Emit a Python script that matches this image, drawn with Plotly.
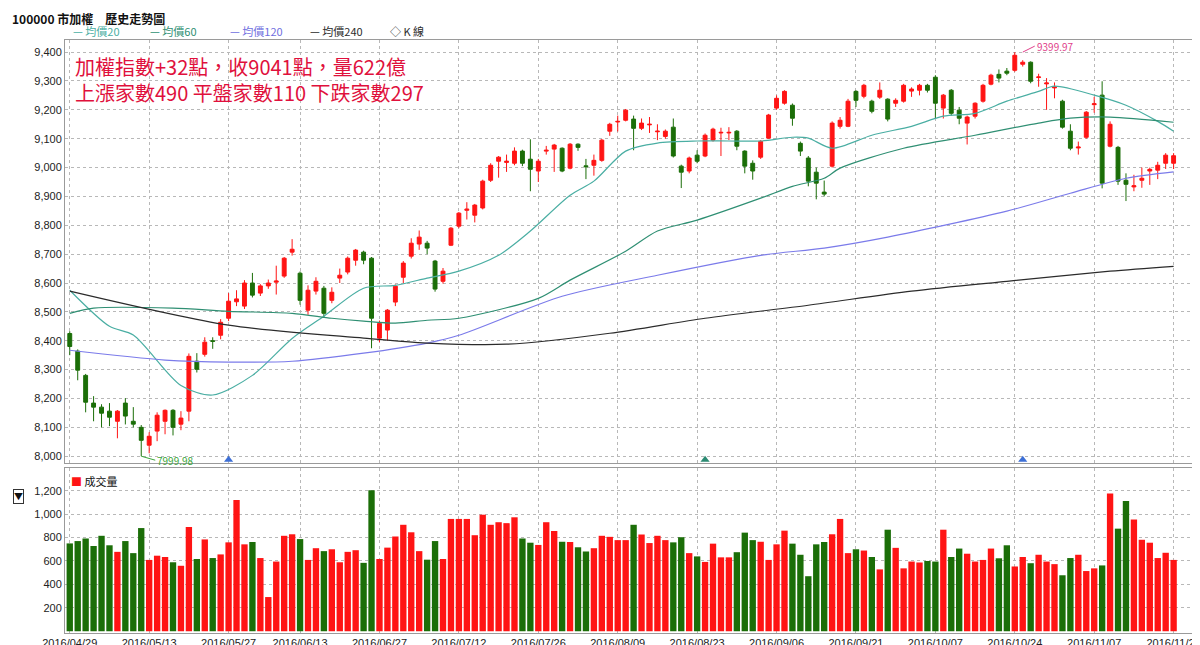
import plotly.graph_objects as go
from plotly.subplots import make_subplots
import pandas as pd

# trading days (TWSE 2016/04/29 - 2016/11/21)
holidays = ['2016-06-09', '2016-06-10', '2016-07-08', '2016-09-15', '2016-09-16',
            '2016-09-27', '2016-09-28', '2016-10-10']
extra_days = ['2016-09-10']
days = pd.bdate_range('2016-04-29', '2016-11-21')
days = days.drop(pd.to_datetime(holidays)).append(pd.to_datetime(extra_days)).sort_values()
dates = [d.strftime('%Y/%m/%d') for d in days]

tick_labels = ['2016/04/29', '2016/05/13', '2016/05/27', '2016/06/13', '2016/06/27', '2016/07/12',
               '2016/07/26', '2016/08/09', '2016/08/23', '2016/09/06', '2016/09/21', '2016/10/07',
               '2016/10/24', '2016/11/07', '2016/11/21']

opens = [8425, 8364, 8280, 8184, 8170, 8156, 8121, 8184, 8121, 8100,
         8038, 8087, 8121, 8159, 8111, 8156, 8329, 8353, 8400, 8419,
         8478, 8535, 8520, 8600, 8565, 8590, 8603, 8624, 8707, 8634,
         8506, 8572, 8582, 8540, 8617, 8638, 8679, 8707, 8686, 8409,
         8437, 8534, 8620, 8693, 8735, 8738, 8676, 8606, 8731, 8797,
         8852, 8835, 8860, 8956, 9022, 9018, 9015, 9057, 9029, 8988,
         9057, 9064, 9067, 8998, 9081, 9006, 9008, 9025, 9126, 9158,
         9164, 9168, 9136, 9148, 9124, 9108, 9140, 9005, 8988, 9043,
         9040, 9095, 9120, 9120, 9126, 9057, 9015, 9036, 9102, 9206,
         9223, 9216, 9084, 9033, 8984, 8915, 9005, 9143, 9143, 9264,
         9247, 9230, 9244, 9237, 9223, 9230, 9265, 9268, 9285, 9313,
         9206, 9268, 9199, 9154, 9178, 9230, 9289, 9323, 9334, 9337,
         9358, 9365, 9312, 9290, 9276, 9230, 9126, 9068, 9105, 9218,
         9251, 9074, 9070, 8956, 8933, 8956, 8988, 8991, 9015, 9015]
closes = [8380, 8298, 8187, 8170, 8149, 8135, 8156, 8139, 8111, 8055,
          8069, 8142, 8159, 8100, 8132, 8346, 8301, 8395, 8398, 8464,
          8537, 8545, 8600, 8558, 8590, 8600, 8607, 8686, 8717, 8540,
          8575, 8606, 8495, 8568, 8627, 8686, 8714, 8679, 8478, 8460,
          8506, 8589, 8669, 8738, 8759, 8721, 8579, 8641, 8790, 8842,
          8856, 8870, 8953, 9008, 9036, 9022, 9057, 9015, 8994, 9022,
          9060, 9078, 8988, 9081, 9070, 9003, 9025, 9095, 9150, 9160,
          9199, 9136, 9154, 9150, 9126, 9126, 9040, 8984, 9033, 9022,
          9112, 9133, 9122, 9122, 9074, 9005, 8988, 9091, 9182, 9240,
          9264, 9171, 9057, 8953, 8946, 8908, 9154, 9164, 9230, 9233,
          9285, 9195, 9268, 9168, 9233, 9285, 9272, 9285, 9268, 9223,
          9251, 9188, 9171, 9175, 9223, 9285, 9320, 9310, 9327, 9389,
          9365, 9299, 9314, 9293, 9279, 9140, 9067, 9071, 9192, 9221,
          8946, 9150, 8953, 8942, 8937, 8963, 8994, 9008, 9043, 9041]
highs = [8433, 8370, 8285, 8208, 8180, 8184, 8160, 8201, 8170, 8108,
         8083, 8152, 8162, 8163, 8156, 8356, 8357, 8412, 8412, 8475,
         8565, 8575, 8610, 8635, 8596, 8612, 8660, 8690, 8752, 8640,
         8592, 8620, 8590, 8585, 8650, 8692, 8718, 8712, 8690, 8470,
         8510, 8595, 8676, 8755, 8782, 8746, 8680, 8652, 8794, 8846,
         8880, 8874, 8958, 9015, 9040, 9045, 9070, 9062, 9098, 9030,
         9075, 9082, 9070, 9085, 9084, 9030, 9045, 9099, 9155, 9180,
         9203, 9180, 9170, 9175, 9150, 9132, 9170, 9010, 9038, 9060,
         9118, 9138, 9138, 9140, 9130, 9060, 9025, 9095, 9186, 9250,
         9268, 9222, 9090, 9040, 9000, 8955, 9160, 9175, 9238, 9268,
         9290, 9235, 9295, 9240, 9240, 9290, 9278, 9290, 9290, 9320,
         9255, 9272, 9210, 9180, 9226, 9290, 9325, 9340, 9345, 9400,
         9372, 9368, 9325, 9310, 9295, 9235, 9150, 9090, 9196, 9245,
         9299, 9160, 9075, 8980, 8975, 9000, 9000, 9020, 9050, 9050]
lows = [8350, 8263, 8152, 8121, 8100, 8104, 8062, 8110, 8100, 8000,
        8010, 8052, 8076, 8072, 8090, 8121, 8290, 8345, 8372, 8405,
        8468, 8520, 8510, 8550, 8555, 8580, 8560, 8618, 8695, 8525,
        8490, 8560, 8480, 8530, 8600, 8630, 8660, 8665, 8374, 8395,
        8400, 8520, 8600, 8685, 8715, 8700, 8570, 8598, 8728, 8790,
        8820, 8810, 8855, 8950, 8965, 8985, 9008, 9005, 8918, 8950,
        9045, 8985, 8984, 8994, 9058, 8960, 8972, 9020, 9110, 9125,
        9160, 9060, 9130, 9120, 9095, 9100, 9035, 8929, 8980, 9015,
        9036, 9090, 9040, 9095, 9060, 8980, 8958, 9030, 9100, 9200,
        9218, 9145, 9040, 8935, 8890, 8900, 9000, 9135, 9140, 9210,
        9240, 9188, 9238, 9160, 9210, 9225, 9245, 9250, 9260, 9170,
        9170, 9180, 9150, 9080, 9170, 9225, 9285, 9295, 9320, 9332,
        9350, 9292, 9280, 9200, 9240, 9135, 9060, 9045, 9100, 9190,
        8928, 9070, 8940, 8884, 8918, 8930, 8940, 8960, 8995, 8995]
volumes = [750, 770, 792, 728, 815, 734, 678, 770, 667, 881,
           609, 645, 634, 589, 559, 890, 617, 784, 625, 656,
           759, 1120, 742, 762, 625, 292, 595, 815, 828, 787,
           609, 709, 684, 700, 589, 678, 692, 584, 1204, 617,
           714, 809, 909, 845, 684, 611, 770, 617, 959, 959,
           959, 820, 995, 909, 931, 923, 973, 792, 756, 737,
           931, 856, 764, 762, 717, 681, 709, 815, 806, 778,
           778, 909, 826, 753, 815, 778, 759, 803, 667, 639,
           592, 748, 631, 631, 675, 842, 778, 764, 609, 742,
           859, 748, 653, 470, 742, 762, 828, 959, 667, 700,
           689, 634, 528, 867, 712, 537, 595, 587, 600, 595,
           867, 634, 706, 662, 595, 609, 706, 623, 734, 553,
           634, 581, 653, 595, 573, 478, 625, 653, 514, 537,
           562, 1176, 876, 1112, 954, 781, 756, 625, 670, 609]

# moving averages at candle indices
ma20_idx = [0, 5, 8, 14, 18, 23, 28, 32, 37, 41, 45, 49, 54, 58, 63, 66, 70, 74, 79, 83,
            87, 91, 93, 96, 101, 106, 110, 114, 118, 122, 124, 129, 133, 137, 139]
ma20_val = [8575, 8450, 8420, 8245, 8212, 8280, 8408, 8485, 8582, 8592, 8617, 8641, 8696, 8780,
            8904, 8953, 9057, 9085, 9092, 9092, 9092, 9105, 9102, 9067, 9112, 9143, 9178, 9188,
            9230, 9264, 9282, 9251, 9216, 9160, 9126]
ma60_idx = [0, 3, 13, 20, 28, 33, 37, 41, 45, 49, 59, 63, 70, 74, 79, 87, 91, 95, 97, 105,
            114, 122, 126, 131, 139]
ma60_val = [8495, 8513, 8513, 8502, 8495, 8478, 8468, 8461, 8471, 8478, 8547, 8610, 8710, 8780,
            8818, 8894, 8935, 8963, 8998, 9067, 9112, 9154, 9171, 9175, 9157]
ma120_idx = [0, 12, 20, 28, 37, 45, 49, 62, 74, 87, 95, 103, 118, 126, 133, 139]
ma120_val = [8367, 8333, 8326, 8329, 8357, 8392, 8419, 8554, 8627, 8696, 8721, 8759, 8849,
             8911, 8963, 8985]
ma240_idx = [0, 20, 37, 45, 55, 68, 80, 93, 106, 118, 131, 139]
ma240_val = [8572, 8454, 8409, 8392, 8388, 8426, 8478, 8523, 8572, 8606, 8641, 8658]

marker_idx = [20, 80, 120]

RED = '#ff1414'
GREEN = '#1b6e08'

fig = make_subplots(rows=2, cols=1, shared_xaxes=True, row_heights=[0.72, 0.28],
                    vertical_spacing=0.009)

# candles first so the category order follows the dates
fig.add_trace(go.Candlestick(x=dates, open=opens, high=highs, low=lows, close=closes,
                             increasing=dict(line=dict(color=RED, width=1), fillcolor=RED),
                             decreasing=dict(line=dict(color=GREEN, width=1), fillcolor=GREEN),
                             whiskerwidth=0), row=1, col=1)

ma_lines = [(ma20_idx, ma20_val, '#4aaea3'), (ma60_idx, ma60_val, '#2f8f73'),
            (ma120_idx, ma120_val, '#7b7bea'), (ma240_idx, ma240_val, '#2b2b2b')]
for idx, val, col in ma_lines:
    fig.add_trace(go.Scatter(x=[dates[i] for i in idx], y=val, mode='lines',
                             line=dict(color=col, width=1.2, shape='spline', smoothing=0.8),
                             hoverinfo='skip'), row=1, col=1)

fig.add_trace(go.Scatter(x=[dates[i] for i in marker_idx], y=[7988, 7988, 7988], mode='markers',
                         marker=dict(symbol='triangle-up', size=8,
                                     color=['#3d6fd6', '#2b8a72', '#3d6fd6'])), row=1, col=1)

vol_colors = [RED if c >= o else GREEN for o, c in zip(opens, closes)]
fig.add_trace(go.Bar(x=dates, y=volumes, marker=dict(color=vol_colors, line=dict(width=0)),
                     width=0.8), row=2, col=1)

axis_common = dict(showline=True, linecolor='#9a9a9a', mirror=True, gridcolor='#b8b8b8',
                   griddash='dot', zeroline=False, tickfont=dict(size=11, color='#222', family='Arial'))
fig.update_xaxes(type='category', categoryorder='array', categoryarray=dates,
                 tickvals=tick_labels, ticktext=tick_labels, tickangle=0, showgrid=True,
                 range=[-0.6, 142.7], rangeslider=dict(visible=False), ticks='', **axis_common)
fig.update_xaxes(showticklabels=False, row=1, col=1)
fig.update_yaxes(range=[7976, 9442], dtick=100, tickformat=',d', showgrid=True,
                 row=1, col=1, **axis_common)
fig.update_yaxes(range=[-15, 1390], tickvals=[200, 400, 600, 800, 1000, 1200], tickformat=',d',
                 showgrid=True, row=2, col=1, **axis_common)

text_font = 'Noto Sans CJK TC'
fig.update_layout(
    width=1200, height=645, showlegend=False,
    margin=dict(l=57, r=5, t=32, b=20),
    plot_bgcolor='white', paper_bgcolor='white', bargap=0.2,
    font=dict(family=text_font),
)
fig.add_annotation(x=0, y=1, xref='paper', yref='paper', xshift=-55, yshift=32, xanchor='left',
                   yanchor='top', showarrow=False, text='<b>100000 市加權　歷史走勢圖</b>',
                   font=dict(size=12, color='#111', family=text_font))
legend_items = [('— 均價20', '#4aaea3', 6), ('— 均價60', '#2f8f73', 83), ('— 均價120', '#6f6fe0', 163),
                ('— 均價240', '#2b2b2b', 243), ('◇ K 線', '#2b2b2b', 323)]
for txt, col, xs in legend_items:
    fig.add_annotation(x=0, y=1, xref='paper', yref='paper', xshift=xs, yshift=19, xanchor='left',
                       yanchor='top', showarrow=False, text=txt, font=dict(size=11, color=col))
fig.add_annotation(x=0, y=1, xref='paper', yref='paper', xshift=8, yshift=-10, xanchor='left',
                   yanchor='top', showarrow=False, align='left',
                   text='加權指數+32點，收9041點，量622億<br>上漲家數490 平盤家數110 下跌家數297',
                   font=dict(size=20, color='#e0103c'))
fig.add_annotation(x=dates[9], y=8000, xref='x', yref='y', ax=14, ay=4, text='7999.98',
                   xanchor='left', showarrow=True, arrowhead=0, arrowcolor='#3aa63a',
                   font=dict(size=10, color='#3aa63a'))
fig.add_annotation(x=dates[120], y=9400, xref='x', yref='y', ax=12, ay=-6, text='9399.97',
                   xanchor='left', showarrow=True, arrowhead=0, arrowcolor='#e0408a',
                   font=dict(size=10, color='#e0408a'))
fig.add_annotation(x=0, y=0.277, xref='paper', yref='paper', xshift=4, yshift=-2, xanchor='left',
                   yanchor='top', showarrow=False, text='<span style="color:#ff1414">■</span> 成交量',
                   font=dict(size=11, color='#111'))
fig.add_annotation(x=0, y=0.277, xref='paper', yref='paper', xshift=-52, yshift=-20, xanchor='left',
                   yanchor='top', showarrow=False, text='▼', bordercolor='#333', borderwidth=1,
                   borderpad=0, font=dict(size=9, color='#111'))

fig.write_html("out.html")
